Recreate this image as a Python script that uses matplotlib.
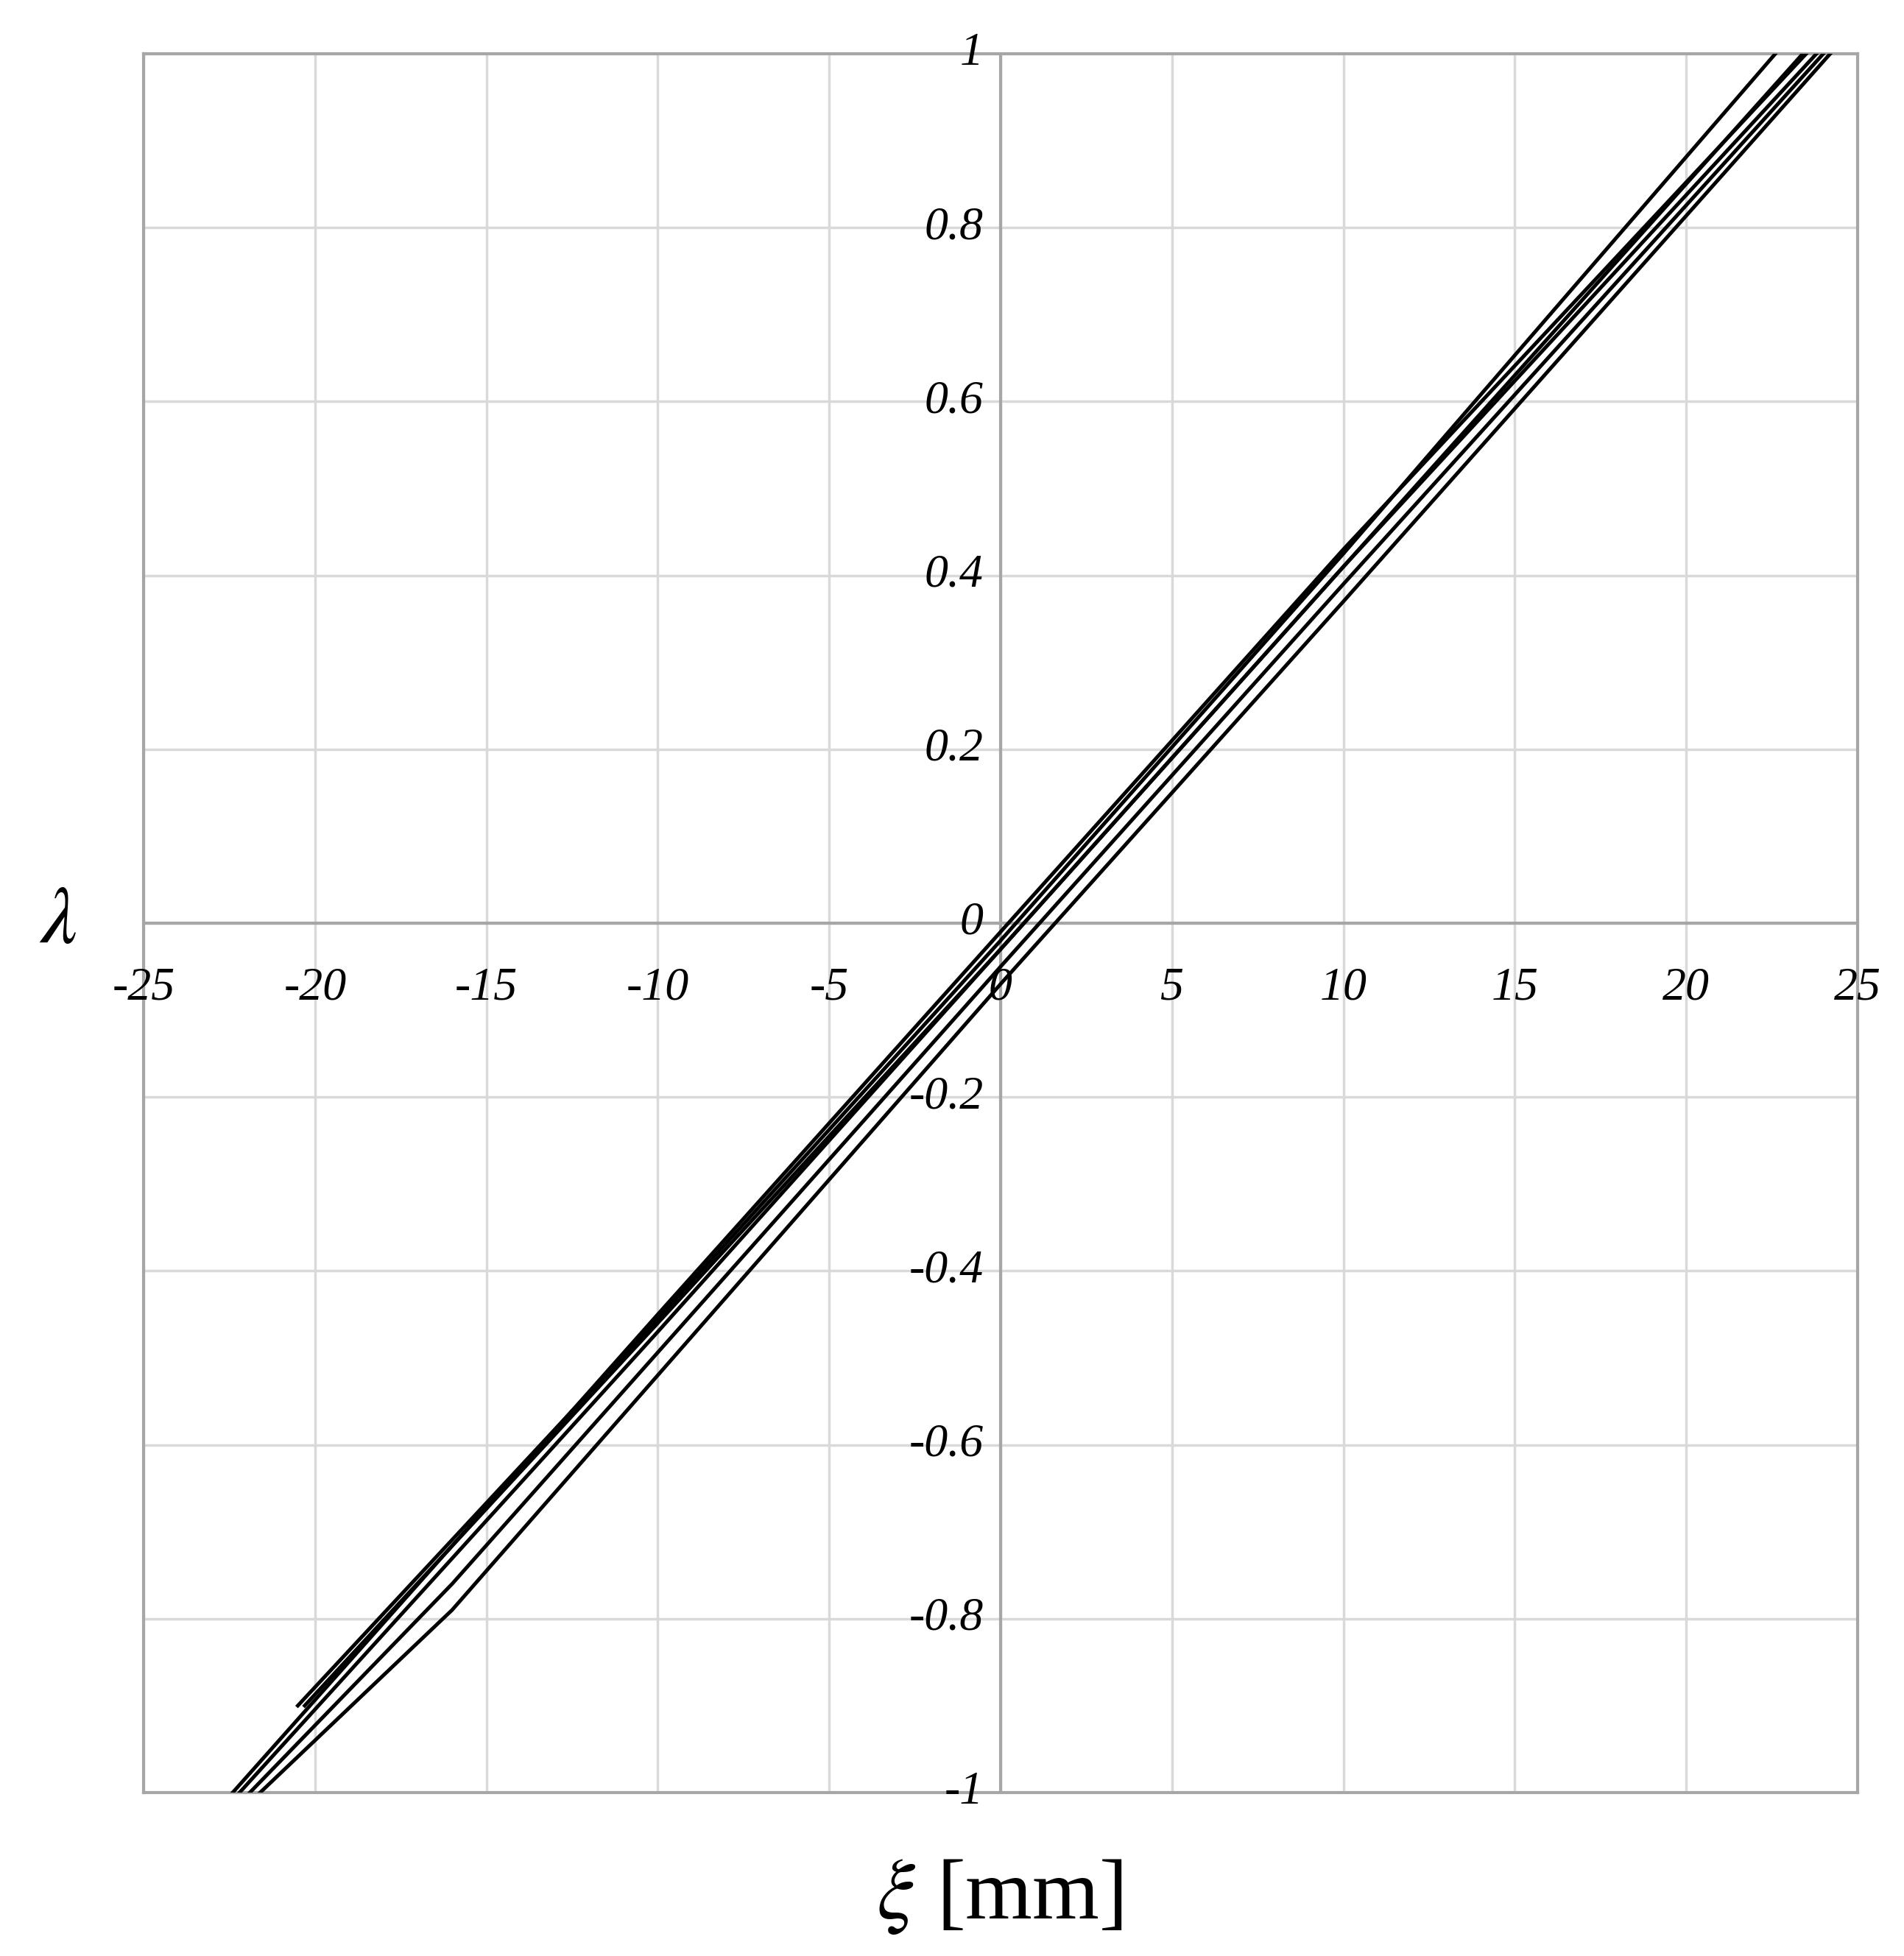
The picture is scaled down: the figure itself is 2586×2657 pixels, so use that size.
import matplotlib
matplotlib.use("Agg")
import matplotlib.pyplot as plt

# curves: xi [mm] vs lambda
xi_a = [-20.5, -10.0, 0.0, 10.0, 22.6]
la_a = [-0.90, -0.455, -0.02, 0.425, 1.0]
xi_b = [-20.3, -10.0, 0.0, 10.0, 23.4]
la_b = [-0.90, -0.46, -0.03, 0.41, 1.0]
xi_c = [-22.4, -10.0, 0.0, 10.0, 23.5]
la_c = [-1.0, -0.45, -0.01, 0.43, 1.0]
xi_d = [-22.2, -10.0, 0.0, 10.0, 23.8]
la_d = [-1.0, -0.47, -0.03, 0.41, 1.0]
xi_e = [-21.9, -16.0, 0.0, 10.0, 24.0]
la_e = [-1.0, -0.76, -0.05, 0.39, 1.0]
xi_f = [-21.6, -16.0, 0.0, 10.0, 24.2]
la_f = [-1.0, -0.79, -0.07, 0.37, 1.0]
curves = [(xi_a, la_a), (xi_b, la_b), (xi_c, la_c), (xi_d, la_d), (xi_e, la_e), (xi_f, la_f)]

xticks = [-25, -20, -15, -10, -5, 0, 5, 10, 15, 20, 25]
yticks = [-1, -0.8, -0.6, -0.4, -0.2, 0, 0.2, 0.4, 0.6, 0.8, 1]

plt.rcParams["font.family"] = ["Liberation Serif", "DejaVu Serif"]
fig = plt.figure(figsize=(25.86, 26.57), dpi=100)
ax = fig.add_axes([195 / 2586, 1 - 2435 / 2657, (2523 - 195) / 2586, (2435 - 73) / 2657])

for x in xticks:
    ax.axvline(x, color="#d9d9d9", lw=2.5, zorder=0)
for y in yticks:
    ax.axhline(y, color="#d9d9d9", lw=2.5, zorder=0)
ax.axhline(0, color="#a6a6a6", lw=3, zorder=1)
ax.axvline(0, color="#a6a6a6", lw=3, zorder=1)

for xs, ys in curves:
    ax.plot(xs, ys, color="black", lw=3.6, zorder=3)

ax.set_xlim(-25, 25)
ax.set_ylim(-1, 1)
ax.set_xticks([])
ax.set_yticks([])
for s in ax.spines.values():
    s.set_color("#a6a6a6")
    s.set_linewidth(3)

for x in xticks:
    ax.text(x, -0.05, f"{x}", ha="center", va="top", fontsize=46, style="italic")
for y in yticks:
    lab = "0" if y == 0 else f"{y:g}"
    ax.text(-0.5, y, lab, ha="right", va="center", fontsize=46, style="italic")

ax.text(-0.05, 0.5, r"$\lambda$", transform=ax.transAxes, fontsize=80,
        ha="center", va="center", math_fontfamily="stix")
fig.text(0.5 + 0.025, 0.03, r"$\xi$ [mm]", fontsize=84, ha="center", va="center",
         math_fontfamily="stix")

fig.savefig("out.png", dpi=100, facecolor="white")
